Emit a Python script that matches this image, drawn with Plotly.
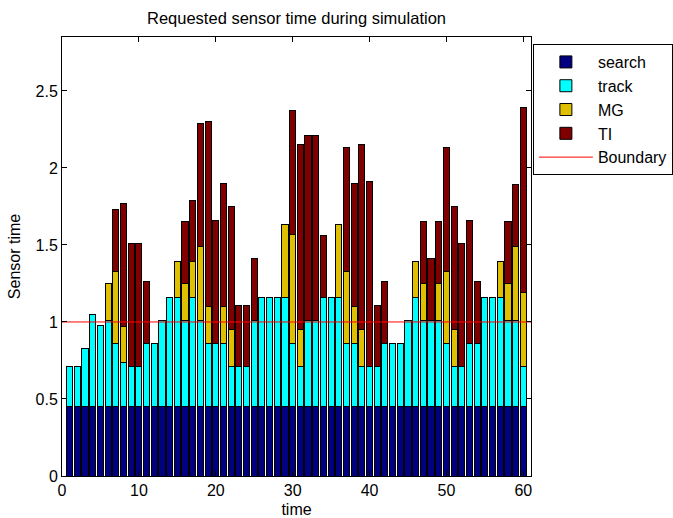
import plotly.graph_objects as go

time = list(range(1, 61))

search = [0.45] * 60

track = [0.26, 0.26, 0.38, 0.60, 0.53, 0.56, 0.41, 0.29, 0.26, 0.26,
         0.41, 0.41, 0.56, 0.71, 0.71, 0.56, 0.71, 0.56, 0.41, 0.41,
         0.41, 0.26, 0.26, 0.26, 0.56, 0.71, 0.71, 0.71, 0.71, 0.41,
         0.26, 0.56, 0.56, 0.71, 0.71, 0.71, 0.41, 0.41, 0.26, 0.26,
         0.26, 0.41, 0.41, 0.41, 0.56, 0.71, 0.56, 0.56, 0.56, 0.41,
         0.26, 0.26, 0.41, 0.41, 0.71, 0.71, 0.71, 0.56, 0.56, 0.26]

mg = [0, 0, 0, 0, 0, 0.24, 0.47, 0.23, 0, 0,
      0, 0, 0, 0, 0.23, 0.24, 0.23, 0.48, 0.24, 0,
      0.24, 0.24, 0, 0, 0, 0, 0, 0, 0.47, 0.71,
      0.24, 0, 0, 0, 0, 0.47, 0.47, 0.24, 0.24, 0,
      0, 0, 0, 0, 0, 0.23, 0.24, 0, 0.24, 0.47,
      0.24, 0, 0, 0, 0, 0, 0.23, 0.24, 0.48, 0.48]

ti = [0, 0, 0, 0, 0, 0, 0.40, 0.80, 0.80, 0.80,
      0.40, 0, 0, 0, 0, 0.40, 0.40, 0.80, 1.20, 0.80,
      0.80, 0.80, 0.40, 0.40, 0.40, 0, 0, 0, 0, 0.80,
      1.20, 1.20, 1.20, 0.40, 0, 0, 0.80, 0.80, 1.20, 1.20,
      0.40, 0.40, 0, 0, 0, 0, 0.40, 0.40, 0.40, 0.80,
      0.80, 0.80, 0.80, 0.40, 0, 0, 0, 0.40, 0.40, 1.20]

boundary_x = [0, 61]
boundary_y = [1, 1]

series = [("search", search, "#000080"),
          ("track", track, "#00FFFF"),
          ("MG", mg, "#DFC000"),
          ("TI", ti, "#800000")]

fig = go.Figure()
for i, (name, vals, col) in enumerate(series):
    fig.add_trace(go.Bar(
        x=time, y=vals, name=name, width=0.8,
        marker=dict(color=col, line=dict(color="black", width=1)),
        legendgroup=name, legendrank=i + 1,
    ))

fig.add_trace(go.Scatter(
    x=boundary_x, y=boundary_y, mode="lines", name="Boundary",
    line=dict(color="red", width=1), legendgroup="Boundary", legendrank=5,
))

font = "Liberation Sans, Arial, sans-serif"
axis_common = dict(
    showline=True, linecolor="black", linewidth=1, mirror="ticks",
    ticks="inside", ticklen=5, tickcolor="black", showgrid=False,
    zeroline=False, tickfont=dict(family=font, size=16, color="black"),
)

fig.update_layout(
    width=673, height=518,
    margin=dict(l=62, r=142, t=37, b=42, autoexpand=False),
    paper_bgcolor="white", plot_bgcolor="white",
    barmode="stack",
    font=dict(family=font, size=16, color="black"),
    title=dict(text="Requested sensor time during simulation",
               x=0.5, xref="paper", xanchor="center",
               y=1 - 18 / 518, yref="container", yanchor="middle",
               font=dict(family=font, size=16.5, color="black")),
    xaxis=dict(range=[0, 61], tickvals=[0, 10, 20, 30, 40, 50, 60],
               title=dict(text="time", standoff=5,
                          font=dict(family=font, size=16, color="black")),
               **axis_common),
    yaxis=dict(range=[0, 2.85], tickvals=[0, 0.5, 1, 1.5, 2, 2.5],
               ticktext=["0", "0.5", "1", "1.5", "2", "2.5"],
               title=dict(text="Sensor time", standoff=10,
                          font=dict(family=font, size=16, color="black")),
               **axis_common),
    legend=dict(x=1.004, y=0.984, xanchor="left", yanchor="top",
                bordercolor="black", borderwidth=1, bgcolor="white",
                traceorder="grouped", tracegroupgap=0, itemwidth=54,
                font=dict(family=font, size=16, color="black")),
)

fig.write_html("out.html")
